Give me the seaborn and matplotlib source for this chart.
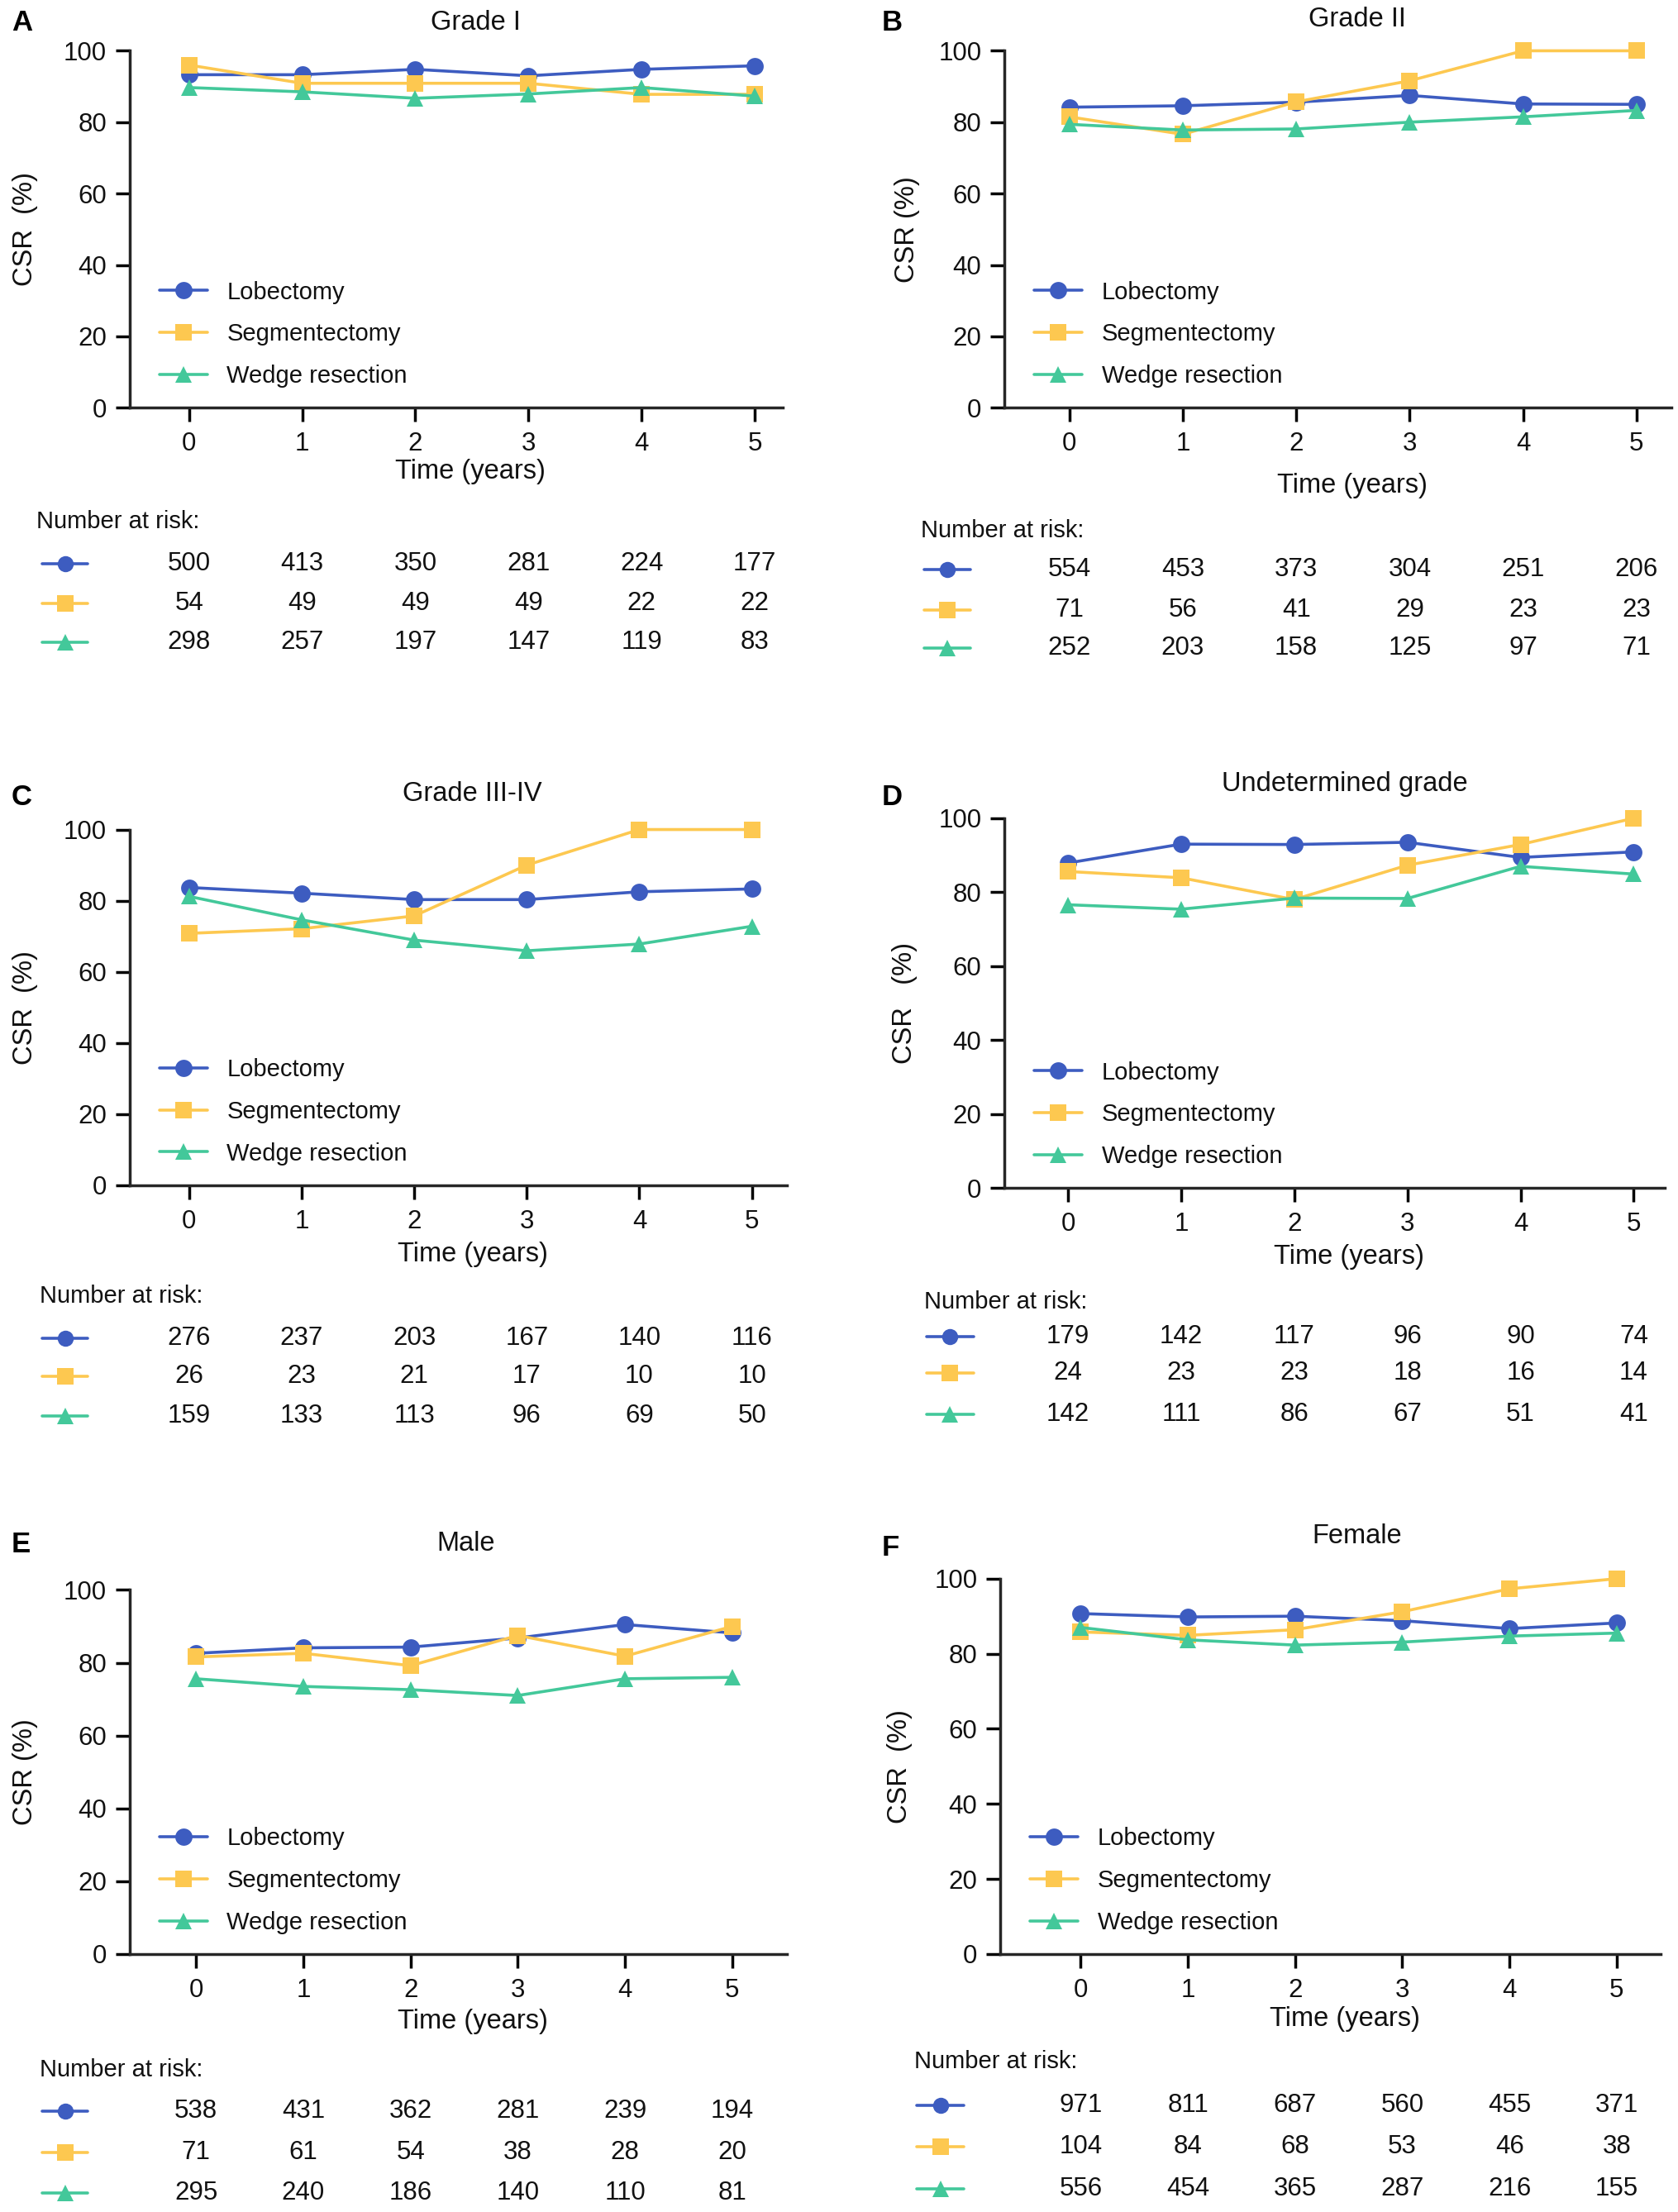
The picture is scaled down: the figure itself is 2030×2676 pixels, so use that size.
import numpy as np
import pandas as pd
import seaborn as sns
import matplotlib
matplotlib.use("Agg")
from matplotlib import pyplot as plt
from matplotlib import transforms
from matplotlib.lines import Line2D

years = [0, 1, 2, 3, 4, 5]
groups = ["Lobectomy", "Segmentectomy", "Wedge resection"]
colors = ["#3d5cc0", "#fdc850", "#43c89a"]
markers = ["o", "s", "^"]

titles = ["Grade I", "Grade II", "Grade III-IV", "Undetermined grade", "Male", "Female"]
letters = ["A", "B", "C", "D", "E", "F"]
ylabels = ["CSR  (%)", "CSR (%)", "CSR  (%)", "CSR   (%)", "CSR (%)", "CSR  (%)"]

# CSR (%) per group: lobectomy, segmentectomy, wedge resection
csr_grade1 = [[93.3, 93.3, 94.8, 93.0, 94.8, 95.8],
              [96.0, 90.9, 90.9, 90.9, 87.8, 87.8],
              [89.7, 88.5, 86.7, 87.9, 89.7, 87.3]]
csr_grade2 = [[84.2, 84.6, 85.6, 87.5, 85.1, 85.0],
              [81.5, 76.6, 85.7, 91.6, 100.0, 100.0],
              [79.4, 77.8, 78.1, 80.0, 81.5, 83.3]]
csr_grade34 = [[83.7, 82.1, 80.3, 80.3, 82.5, 83.3],
               [70.8, 72.1, 75.7, 90.0, 100.0, 100.0],
               [81.2, 74.6, 68.9, 65.9, 67.8, 72.8]]
csr_undet = [[87.9, 93.0, 92.9, 93.5, 89.4, 90.9],
             [85.6, 83.9, 78.0, 87.3, 92.9, 100.0],
             [76.6, 75.4, 78.4, 78.3, 87.0, 84.9]]
csr_male = [[82.6, 84.1, 84.3, 86.8, 90.5, 88.2],
            [81.6, 82.6, 79.2, 87.5, 81.8, 90.0],
            [75.6, 73.5, 72.6, 71.0, 75.6, 76.0]]
csr_female = [[90.7, 89.8, 90.0, 88.8, 86.7, 88.2],
              [85.8, 84.9, 86.4, 91.2, 97.3, 100.0],
              [87.0, 83.7, 82.3, 83.1, 84.7, 85.5]]

# number at risk
risk_grade1 = [[500, 413, 350, 281, 224, 177], [54, 49, 49, 49, 22, 22], [298, 257, 197, 147, 119, 83]]
risk_grade2 = [[554, 453, 373, 304, 251, 206], [71, 56, 41, 29, 23, 23], [252, 203, 158, 125, 97, 71]]
risk_grade34 = [[276, 237, 203, 167, 140, 116], [26, 23, 21, 17, 10, 10], [159, 133, 113, 96, 69, 50]]
risk_undet = [[179, 142, 117, 96, 90, 74], [24, 23, 23, 18, 16, 14], [142, 111, 86, 67, 51, 41]]
risk_male = [[538, 431, 362, 281, 239, 194], [71, 61, 54, 38, 28, 20], [295, 240, 186, 140, 110, 81]]
risk_female = [[971, 811, 687, 560, 455, 371], [104, 84, 68, 53, 46, 38], [556, 454, 365, 287, 216, 155]]

all_csr = [csr_grade1, csr_grade2, csr_grade34, csr_undet, csr_male, csr_female]
all_risk = [risk_grade1, risk_grade2, risk_grade34, risk_undet, risk_male, risk_female]

W, H = 2031, 2676
S = W / 1190.0  # layout measured on a 1190 px wide copy

# layout in measured px: axes left/right/top/bottom, tick0/tick5 x, letter (x,y), title (x,y),
# xlabel y, ylabel x, header (x,y), rows y, row marker x0/x1
layouts = [
    dict(ax=(92, 555, 36, 289), t=(134, 535), letter=(8, 16), title=(337, 16), xl=334, yl=18,
         head=(26, 370), rows=(398, 426, 454), mk=(30, 62)),
    dict(ax=(712, 1185, 36, 289), t=(758, 1160), letter=(625, 16), title=(962, 14), xl=344, yl=643,
         head=(653, 376), rows=(402, 431, 458), mk=(655, 688)),
    dict(ax=(92, 558, 588, 840), t=(134, 533), letter=(8, 565), title=(335, 563), xl=889, yl=18,
         head=(28, 919), rows=(947, 974, 1002), mk=(30, 62)),
    dict(ax=(712, 1180, 580, 842), t=(757, 1158), letter=(625, 565), title=(953, 556), xl=891, yl=641,
         head=(655, 923), rows=(946, 972, 1001), mk=(657, 690)),
    dict(ax=(92, 558, 1127, 1385), t=(139, 519), letter=(8, 1095), title=(330, 1094), xl=1433, yl=18,
         head=(28, 1467), rows=(1495, 1524, 1553), mk=(30, 62)),
    dict(ax=(709, 1177, 1119, 1385), t=(766, 1146), letter=(625, 1097), title=(962, 1089), xl=1431, yl=638,
         head=(648, 1461), rows=(1491, 1520, 1550), mk=(650, 683)),
]

sns.set_theme(style="ticks")
plt.rcParams["font.family"] = ["Liberation Sans", "DejaVu Sans"]
plt.rcParams["axes.linewidth"] = 2.5


def fx(x):
    return x * S / W


def fy(y):
    return 1 - y * S / H


fig = plt.figure(figsize=(W / 100, H / 100), dpi=100)
fig.patch.set_facecolor("white")

for i in range(6):
    lay = layouts[i]
    x0, x1, yt, yb = lay["ax"]
    ax = fig.add_axes([fx(x0), fy(yb), fx(x1) - fx(x0), fy(yt) - fy(yb)])

    df = pd.DataFrame({
        "time": years * 3,
        "csr": sum(all_csr[i], []),
        "group": np.repeat(groups, len(years)),
    })
    sns.lineplot(data=df, x="time", y="csr", hue="group", style="group",
                 markers=dict(zip(groups, markers)), dashes=False,
                 palette=dict(zip(groups, colors)), markersize=15, linewidth=2.6,
                 markeredgewidth=0, clip_on=False, legend=False, ax=ax)

    t0, t5 = lay["t"]
    sp = (t5 - t0) / 5
    ax.set_xlim((x0 - t0) / sp, (x1 - t0) / sp)
    ax.set_ylim(0, 100)
    ax.set_xticks(years)
    ax.set_yticks([0, 20, 40, 60, 80, 100])
    ax.tick_params(axis="both", labelsize=22.5, width=2.5, length=12, color="black", labelcolor="#111111")
    ax.tick_params(axis="x", pad=9)
    ax.tick_params(axis="y", pad=8)
    sns.despine(ax=ax)
    ax.set_facecolor("white")

    ax.set_xlabel("Time (years)", fontsize=23.5, color="#111111", va="center")
    ax.xaxis.set_label_coords(fx((x0 + x1) / 2 + 10), fy(lay["xl"]), transform=fig.transFigure)
    ax.set_ylabel(ylabels[i], fontsize=23.5, color="#111111", va="center")
    ax.yaxis.set_label_coords(fx(lay["yl"]), fy((yt + yb) / 2), transform=fig.transFigure)

    fig.text(fx(lay["title"][0]), fy(lay["title"][1]), titles[i], fontsize=23.5,
             ha="center", va="center", color="#111111")
    fig.text(fx(lay["letter"][0]), fy(lay["letter"][1]), letters[i], fontsize=25,
             fontweight="bold", ha="left", va="center", color="black")

    handles = [Line2D([0], [0], color=c, marker=m, lw=2.6, ms=15, mew=0)
               for c, m in zip(colors, markers)]
    ax.legend(handles, groups, loc="lower left", bbox_to_anchor=(0.012, -0.005), frameon=False,
              fontsize=21, handlelength=2.0, handletextpad=0.8, labelspacing=0.78,
              labelcolor="#111111")

    # number at risk table
    fig.text(fx(lay["head"][0]), fy(lay["head"][1]), "Number at risk:", fontsize=21,
             ha="left", va="center", color="#111111")
    blend = transforms.blended_transform_factory(ax.transData, fig.transFigure)
    m0, m1 = lay["mk"]
    for g in range(3):
        ry = fy(lay["rows"][g] + 1.5)
        fig.add_artist(Line2D([fx(m0), fx((m0 + m1) / 2), fx(m1)], [ry, ry, ry],
                              transform=fig.transFigure, color=colors[g], lw=2.6,
                              marker=markers[g], ms=14, mew=0, markevery=[1]))
        for t, n in zip(years, all_risk[i][g]):
            ax.text(t, ry, str(n), transform=blend, ha="center", va="center",
                    fontsize=22.5, color="#111111", clip_on=False)

fig.savefig("out.png", dpi=100, facecolor="white")
